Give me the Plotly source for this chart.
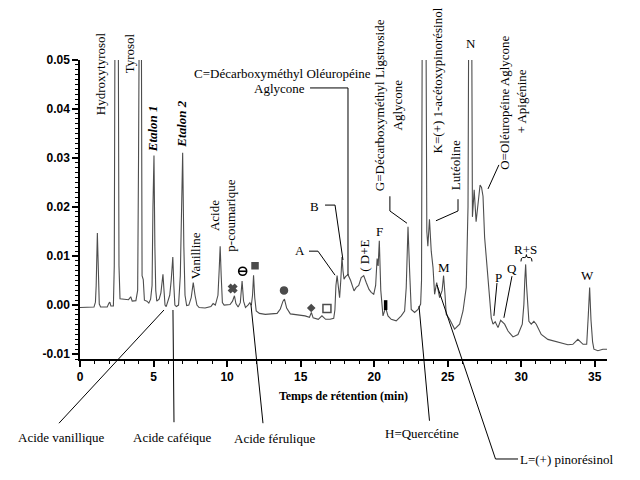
import plotly.graph_objects as go

# ---------------- data ----------------
time_min = [
    0.00, 0.50, 0.95, 1.05, 1.10, 1.18, 1.25, 1.31, 1.40, 1.85, 1.97, 2.03, 2.10, 2.27,
    2.33, 2.38, 2.60, 2.65, 2.72, 3.00, 3.30, 3.45, 3.55, 3.80, 3.92, 3.98, 4.03, 4.17,
    4.22, 4.30, 4.38, 4.55, 4.68, 4.80, 4.90, 4.96, 5.03, 5.09, 5.15, 5.22, 5.38, 5.50,
    5.58, 5.64, 5.70, 5.78, 5.86, 5.96, 6.10, 6.20, 6.31, 6.38, 6.45, 6.55, 6.70, 6.82,
    6.90, 6.98, 7.06, 7.14, 7.25, 7.40, 7.56, 7.70, 7.82, 7.95, 8.10, 8.50, 8.90, 9.05,
    9.20, 9.38, 9.46, 9.53, 9.60, 9.68, 9.80, 10.00, 10.20, 10.37, 10.50, 10.60, 10.75,
    10.90, 11.02, 11.12, 11.25, 11.42, 11.55, 11.65, 11.73, 11.80, 11.88, 11.98, 12.20,
    12.60, 13.00, 13.40, 13.62, 13.80, 13.90, 14.05, 14.30, 14.80, 15.30, 15.60, 15.73,
    15.85, 16.20, 16.45, 16.70, 17.00, 17.25, 17.33, 17.40, 17.48, 17.55, 17.65, 17.73,
    17.81, 17.88, 17.95, 18.05, 18.22, 18.40, 18.63, 18.78, 18.95, 19.12, 19.29, 19.46,
    19.65, 19.80, 19.97, 20.10, 20.20, 20.27, 20.35, 20.45, 20.60, 20.78, 20.94, 21.16,
    21.50, 21.84, 22.07, 22.18, 22.30, 22.41, 22.52, 22.75, 22.98, 23.16, 23.22, 23.27,
    23.52, 23.58, 23.65, 23.76, 23.88, 24.00, 24.11, 24.25, 24.45, 24.62, 24.72, 24.82,
    24.90, 25.13, 25.47, 25.81, 26.04, 26.26, 26.38, 26.43, 26.63, 26.68, 26.80, 26.93,
    27.05, 27.20, 27.30, 27.40, 27.51, 27.74, 27.96, 28.08, 28.23, 28.42, 28.60, 28.87,
    29.10, 29.44, 29.78, 30.07, 30.18, 30.24, 30.30, 30.36, 30.43, 30.52, 30.68, 30.86,
    31.02, 31.36, 31.81, 32.27, 32.72, 33.17, 33.51, 33.85, 34.20, 34.45, 34.56, 34.65,
    34.74, 34.85, 34.94, 35.21, 35.55, 35.85,
]
absorbance = [
    -0.0005, -0.0005, -0.0004, 0.0006, 0.0040, 0.0147, 0.0035, 0.0002, -0.0004, -0.0004, 0.0004, 0.0006, -0.0002, -0.0002,
    0.0080, 0.0600, 0.0600, 0.0080, 0.0013, 0.0012, 0.0011, 0.0017, 0.0008, 0.0009, 0.0030, 0.0300, 0.0600, 0.0600,
    0.0060, 0.0052, 0.0010, 0.0008, 0.0004, 0.0012, 0.0040, 0.0200, 0.0305, 0.0120, 0.0030, 0.0008, 0.0012, 0.0025,
    0.0055, 0.0063, 0.0035, 0.0000, -0.0003, 0.0005, 0.0020, 0.0050, 0.0098, 0.0040, 0.0000, -0.0003, 0.0000, 0.0060,
    0.0200, 0.0311, 0.0120, 0.0020, -0.0001, 0.0000, 0.0015, 0.0046, 0.0020, 0.0000, -0.0005, -0.0006, -0.0003, 0.0003,
    0.0000, 0.0020, 0.0070, 0.0120, 0.0060, 0.0005, 0.0000, 0.0000, 0.0001, 0.0008, 0.0019, 0.0003, -0.0004,
    0.0005, 0.0049, 0.0008, -0.0005, 0.0000, 0.0005, 0.0000, 0.0020, 0.0061, 0.0015, -0.0012, -0.0017,
    -0.0019, -0.0018, -0.0017, -0.0008, 0.0008, 0.0012, -0.0006, -0.0018, -0.0020, -0.0022, -0.0025, -0.0015,
    -0.0026, -0.0029, -0.0022, -0.0029, -0.0029, -0.0027, -0.0010, 0.0040, 0.0060, 0.0035, 0.0015, 0.0050,
    0.0098, 0.0070, 0.0053, 0.0058, 0.0062, 0.0050, 0.0029, 0.0036, 0.0040, 0.0056, 0.0060, 0.0046,
    0.0032, 0.0026, 0.0022, 0.0040, 0.0095, 0.0080, 0.0131, 0.0030, -0.0022, -0.0005, -0.0022, -0.0029,
    -0.0032, -0.0022, -0.0012, 0.0036, 0.0160, 0.0070, -0.0009, -0.0015, -0.0009, 0.0002, 0.0050, 0.0600,
    0.0600, 0.0150, 0.0120, 0.0175, 0.0110, 0.0077, 0.0022, 0.0046, 0.0015, 0.0030, 0.0060, 0.0020,
    -0.0019, -0.0029, -0.0049, -0.0039, -0.0012, 0.0036, 0.0200, 0.0600, 0.0600, 0.0180, 0.0235, 0.0170,
    0.0200, 0.0245, 0.0240, 0.0222, 0.0138, 0.0049, -0.0026, -0.0039, -0.0034, -0.0046, -0.0031, -0.0039,
    -0.0053, -0.0065, -0.0060, -0.0039, 0.0002, 0.0050, 0.0083, 0.0040, -0.0005, -0.0033, -0.0039, -0.0033,
    -0.0039, -0.0060, -0.0070, -0.0074, -0.0077, -0.0081, -0.0080, -0.0070, -0.0080, -0.0080, -0.0020, 0.0036,
    -0.0030, -0.0075, -0.0090, -0.0093, -0.0090, -0.0090,
]

x_tick_values = [0, 5, 10, 15, 20, 25, 30, 35]
x_tick_labels = ["0", "5", "10", "15", "20", "25", "30", "35"]
y_tick_values = [-0.01, 0.0, 0.01, 0.02, 0.03, 0.04, 0.05]
y_tick_labels = ["-0.01", "0.00", "0.01", "0.02", "0.03", "0.04", "0.05"]

X_RANGE = [0, 35.83]
Y_RANGE = [-0.011, 0.05]

SERIF = "Liberation Serif"
SANS = "Liberation Sans"


def to_paper(t, v):
    return ((t - X_RANGE[0]) / (X_RANGE[1] - X_RANGE[0]),
            (v - Y_RANGE[0]) / (Y_RANGE[1] - Y_RANGE[0]))


def label(text, t, v, angle=0, bold=False, italic=False, size=13):
    x, y = to_paper(t, v)
    return dict(text=text, x=x, y=y, xref="paper", yref="paper", showarrow=False,
                textangle=angle, xanchor="center", yanchor="middle",
                font=dict(family=SERIF, size=size, color="black",
                          weight="bold" if bold else "normal",
                          style="italic" if italic else "normal"))


def leader(points, width=1):
    pts = [to_paper(t, v) for t, v in points]
    path = "M " + " L ".join(f"{x:.5f},{y:.5f}" for x, y in pts)
    return dict(type="path", path=path, xref="paper", yref="paper",
                line=dict(color="black", width=width))


fig = go.Figure()
fig.add_trace(go.Scatter(x=time_min, y=absorbance, mode="lines",
                         line=dict(color="#4d4d4d", width=1.1), hoverinfo="skip"))

# small symbol markers beside minor peaks
sym_t = [10.38, 11.90, 13.87, 15.72, 16.79]
sym_v = [0.0034, 0.0080, 0.0030, -0.0006, -0.0007]
sym_s = ["x", "square", "circle", "diamond", "square-open"]
sym_size = [7, 6, 7, 5, 8]
fig.add_trace(go.Scatter(x=sym_t, y=sym_v, mode="markers", hoverinfo="skip",
                         marker=dict(symbol=sym_s, size=sym_size, color="black",
                                     line=dict(color="black", width=1.5))))
# theta-like symbol and small bar
fig.add_trace(go.Scatter(x=[11.06], y=[0.0069], mode="markers", hoverinfo="skip",
                         marker=dict(symbol="circle-open", size=8, color="black",
                                     line=dict(color="black", width=1.6))))
fig.add_trace(go.Scatter(x=[11.06], y=[0.0069], mode="markers", hoverinfo="skip",
                         marker=dict(symbol="line-ew", size=6, color="black",
                                     line=dict(color="black", width=1.6))))
fig.add_trace(go.Scatter(x=[20.78], y=[0.0], mode="markers", hoverinfo="skip",
                         marker=dict(symbol="line-ns", size=7, color="black",
                                     line=dict(color="black", width=3.5))))

annotations = [
    label("Hydroxytyrosol", 1.39, 0.0472, -90),
    label("Tyrosol", 3.38, 0.0513, -90),
    label("Etalon 1", 4.94, 0.0360, -90, bold=True, italic=True),
    label("Etalon 2", 6.93, 0.0370, -90, bold=True, italic=True),
    label("Vanilline", 7.87, 0.0101, -90),
    label("Acide", 9.16, 0.0183, -90),
    label("p-coumarique", 10.22, 0.0183, -90),
    label("C=Décarboxyméthyl Oléuropéine", 13.78, 0.0472),
    label("Aglycone", 13.53, 0.0441),
    label("B", 15.91, 0.0202),
    label("A", 14.94, 0.0111),
    label("( D+E", 19.29, 0.0100, -90),
    label("F", 20.37, 0.0151),
    label("G=Décarboxyméthyl Ligstroside", 20.37, 0.0407, -90),
    label("Aglycone", 21.61, 0.0409, -90),
    label("K=(+) 1-acétoxypinorésinol", 24.33, 0.0458, -90),
    label("Lutéoline", 25.58, 0.0286, -90),
    label("N", 26.60, 0.0533),
    label("O=Oléuropéine Aglycone", 28.87, 0.0412, -90),
    label("+ Apigénine", 30.00, 0.0416, -90),
    label("M", 24.75, 0.0076),
    label("P", 28.46, 0.0057),
    label("Q", 29.39, 0.0074),
    label("R+S", 30.32, 0.0114),
    label("W", 34.53, 0.0061),
    label("Acide vanillique", -1.26, -0.0271),
    label("Acide caféique", 6.32, -0.0271),
    label("Acide férulique", 13.19, -0.0273),
    label("H=Quercétine", 23.22, -0.0261),
    label("L=(+) pinorésinol", 33.10, -0.0316),
]

shapes = [
    leader([(5.71, -0.0010), (-1.43, -0.0241)]),
    leader([(6.32, -0.0010), (6.39, -0.0239)]),
    leader([(11.62, 0.0002), (12.44, -0.0241)]),
    leader([(23.05, -0.0002), (23.76, -0.0236)]),
    leader([(24.27, 0.0041), (28.25, -0.0314), (29.78, -0.0314)]),
    leader([(15.64, 0.0443), (18.22, 0.0443), (18.22, 0.0061)]),
    leader([(16.66, 0.0204), (17.34, 0.0204), (17.88, 0.0092)]),
    leader([(15.57, 0.0110), (16.18, 0.0110), (17.34, 0.0061)]),
    leader([(21.07, 0.0222), (21.07, 0.0192), (22.23, 0.0167)]),
    leader([(25.70, 0.0216), (25.70, 0.0192), (24.20, 0.0172)]),
    leader([(28.48, 0.0286), (27.74, 0.0237)]),
    leader([(28.35, 0.0045), (28.14, -0.0022)]),
    leader([(29.37, 0.0059), (28.82, -0.0026)]),
]

# brace under "R+S"
b = [to_paper(t, v) for t, v in [(29.98, 0.0089), (29.98, 0.0097), (30.10, 0.0097),
                                  (30.24, 0.0097), (30.35, 0.0097), (30.35, 0.0103),
                                  (30.35, 0.0097), (30.46, 0.0097), (30.61, 0.0097),
                                  (30.73, 0.0097), (30.73, 0.0089)]]
brace = (f"M {b[0][0]:.5f},{b[0][1]:.5f} Q {b[1][0]:.5f},{b[1][1]:.5f} {b[2][0]:.5f},{b[2][1]:.5f} "
         f"L {b[3][0]:.5f},{b[3][1]:.5f} Q {b[4][0]:.5f},{b[4][1]:.5f} {b[5][0]:.5f},{b[5][1]:.5f} "
         f"Q {b[6][0]:.5f},{b[6][1]:.5f} {b[7][0]:.5f},{b[7][1]:.5f} "
         f"L {b[8][0]:.5f},{b[8][1]:.5f} Q {b[9][0]:.5f},{b[9][1]:.5f} {b[10][0]:.5f},{b[10][1]:.5f}")
shapes.append(dict(type="path", path=brace, xref="paper", yref="paper",
                   line=dict(color="black", width=1)))

fig.update_layout(
    width=640, height=480,
    margin=dict(l=72, r=41, t=52, b=129),
    paper_bgcolor="white", plot_bgcolor="white",
    showlegend=False,
    annotations=annotations,
    shapes=shapes,
    xaxis=dict(
        range=X_RANGE, showgrid=False, zeroline=False,
        showline=True, linecolor="black", linewidth=1.5,
        ticks="outside", ticklen=6, tickwidth=1.5, tickcolor="black",
        tickmode="array", tickvals=x_tick_values, ticktext=x_tick_labels,
        tickfont=dict(family=SANS, size=12, color="black", weight="bold"),
        minor=dict(dtick=1, tick0=0, ticks="outside", ticklen=3, tickwidth=1, tickcolor="black"),
        title=dict(text="Temps de rétention (min)", standoff=8,
                   font=dict(family=SERIF, size=12, color="black", weight="bold")),
    ),
    yaxis=dict(
        range=Y_RANGE, showgrid=False, zeroline=False,
        showline=True, linecolor="black", linewidth=1.5,
        ticks="outside", ticklen=6, tickwidth=1.5, tickcolor="black",
        tickmode="array", tickvals=y_tick_values, ticktext=y_tick_labels,
        tickfont=dict(family=SANS, size=12, color="black", weight="bold"),
        minor=dict(dtick=0.001, tick0=0, ticks="outside", ticklen=3, tickwidth=1, tickcolor="black"),
    ),
)

fig.write_html("out.html")
